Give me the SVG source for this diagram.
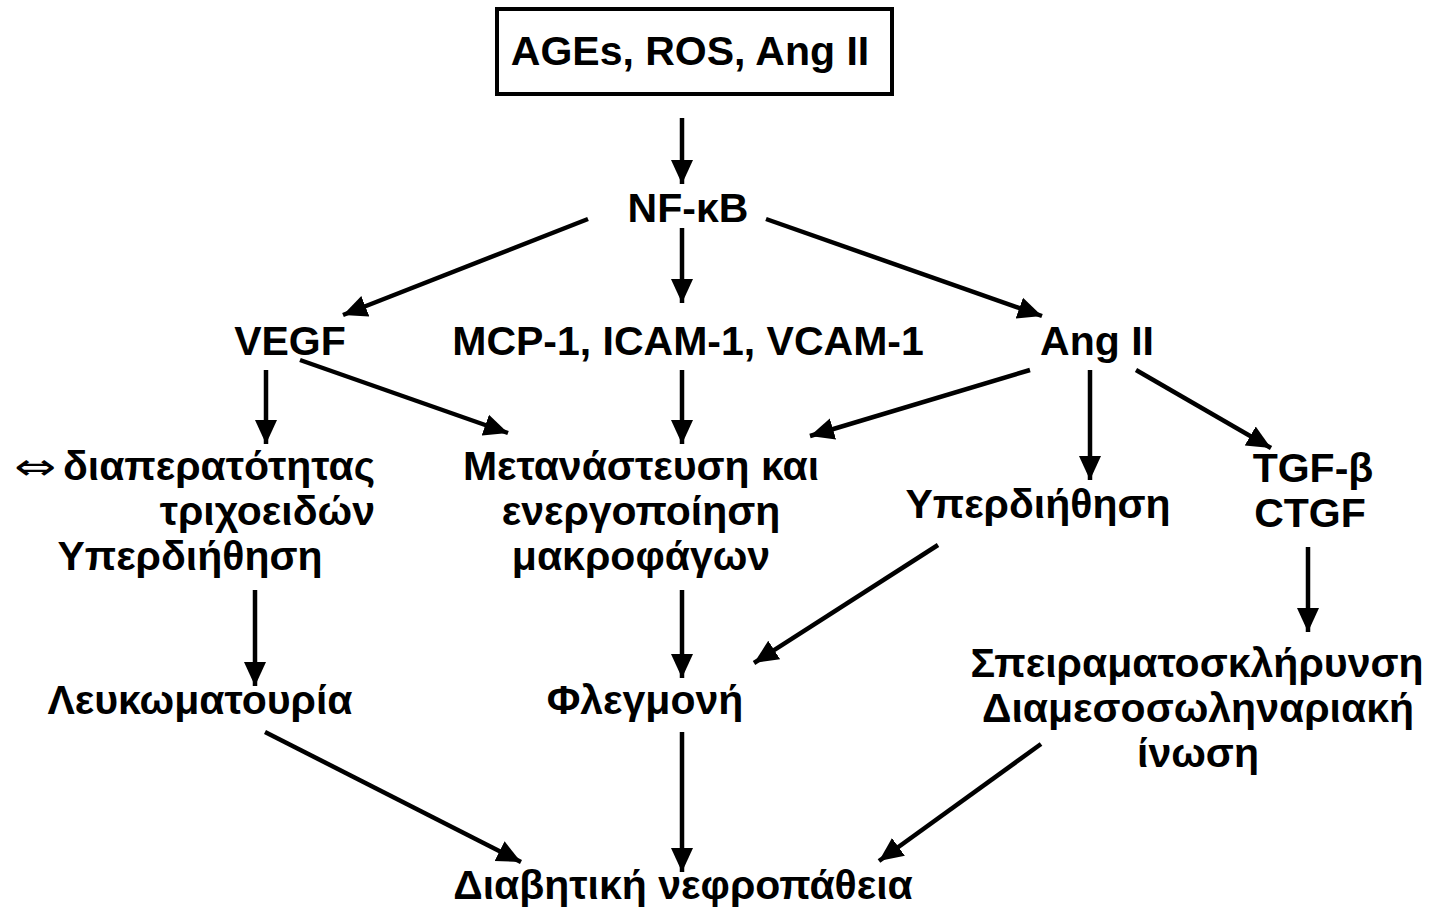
<svg xmlns="http://www.w3.org/2000/svg" width="1429" height="909" viewBox="0 0 1429 909">
<defs>
<marker id="ah" markerUnits="userSpaceOnUse" markerWidth="26" markerHeight="24" refX="24" refY="11" orient="auto" viewBox="0 0 26 22">
<path d="M0,0 L24,11 L0,22 Z" fill="#000"/>
</marker>
<style>
text{font-family:"Liberation Sans",Arial,sans-serif;font-weight:bold;font-size:41px;fill:#000}
.m{text-anchor:middle}
.e{text-anchor:end}
.sym{font-family:"DejaVu Sans",sans-serif;font-weight:normal;font-size:36px}
.c line{stroke:#000;stroke-width:4.5;marker-end:url(#ah)}
</style>
</defs>
<rect width="1429" height="909" fill="#fff"/>
<g id="n-src"><rect x="497" y="9" width="395" height="85" fill="none" stroke="#000" stroke-width="4"/><text class="m" x="690" y="65">AGEs, ROS, Ang II</text></g>
<g id="n-nfkb"><text class="m" x="688" y="222">NF-κB</text></g>
<g id="n-vegf"><text class="m" x="290" y="355">VEGF</text></g>
<g id="n-mcp"><text class="m" x="688" y="355">MCP-1, ICAM-1, VCAM-1</text></g>
<g id="n-ang"><text class="m" x="1097" y="355">Ang II</text></g>
<g id="n-perm"><text class="sym" x="14" y="479" textLength="42" lengthAdjust="spacingAndGlyphs">⇔</text><text class="e" x="375" y="480">διαπερατότητας</text><text class="e" x="375" y="525">τριχοειδών</text><text class="m" x="190" y="570">Υπερδιήθηση</text></g>
<g id="n-macro"><text class="m" x="641" y="480">Μετανάστευση και</text><text class="m" x="641" y="525">ενεργοποίηση</text><text class="m" x="641" y="570">μακροφάγων</text></g>
<g id="n-hyper"><text class="m" x="1038" y="518">Υπερδιήθηση</text></g>
<g id="n-tgf"><text class="m" x="1313" y="482">TGF-β</text><text class="m" x="1310" y="527">CTGF</text></g>
<g id="n-leuk"><text class="m" x="200" y="714">Λευκωματουρία</text></g>
<g id="n-infl"><text class="m" x="645" y="714">Φλεγμονή</text></g>
<g id="n-scler"><text class="m" x="1197" y="677">Σπειραματοσκλήρυνση</text><text class="m" x="1198" y="722">Διαμεσοσωληναριακή</text><text class="m" x="1198" y="767">ίνωση</text></g>
<g id="n-dn"><text class="m" x="683" y="899">Διαβητική νεφροπάθεια</text></g>
<g class="c" id="connectors">
<line x1="682" y1="118" x2="682" y2="184"/>
<line x1="588" y1="219" x2="343" y2="315"/>
<line x1="682" y1="228" x2="682" y2="303"/>
<line x1="766" y1="219" x2="1042" y2="316"/>
<line x1="266" y1="370" x2="266" y2="444"/>
<line x1="300" y1="360" x2="508" y2="433"/>
<line x1="682" y1="370" x2="682" y2="444"/>
<line x1="1030" y1="370" x2="810" y2="436"/>
<line x1="1090" y1="370" x2="1090" y2="480"/>
<line x1="1136" y1="370" x2="1271" y2="448"/>
<line x1="255" y1="590" x2="255" y2="686"/>
<line x1="682" y1="590" x2="682" y2="678"/>
<line x1="938" y1="545" x2="754" y2="663"/>
<line x1="1308" y1="547" x2="1308" y2="632"/>
<line x1="265" y1="732" x2="521" y2="862"/>
<line x1="682" y1="732" x2="682" y2="872"/>
<line x1="1041" y1="744" x2="879" y2="861"/>
</g>
</svg>
